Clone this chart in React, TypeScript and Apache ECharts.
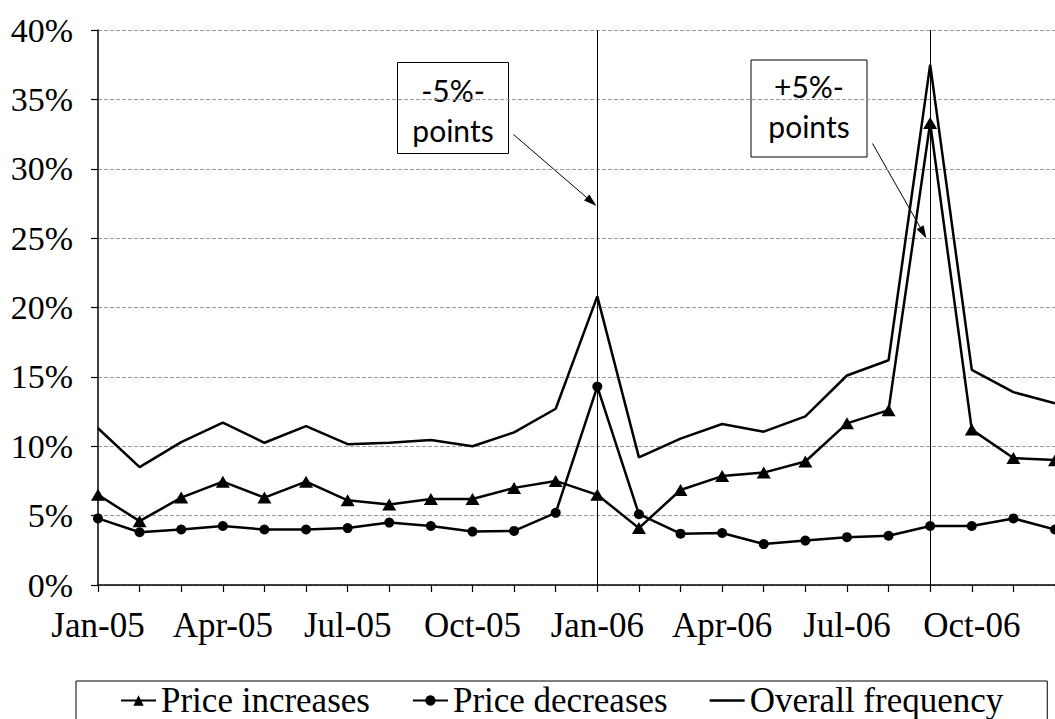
import React, { useEffect, useRef } from "react";
import * as echarts from "echarts";

const months = [
  "Jan-05", "Feb-05", "Mar-05", "Apr-05", "May-05", "Jun-05",
  "Jul-05", "Aug-05", "Sep-05", "Oct-05", "Nov-05", "Dec-05",
  "Jan-06", "Feb-06", "Mar-06", "Apr-06", "May-06", "Jun-06",
  "Jul-06", "Aug-06", "Sep-06", "Oct-06", "Nov-06", "Dec-06",
];

const priceIncreases = [
  6.5, 4.6, 6.3, 7.45, 6.3, 7.45, 6.1, 5.8, 6.2, 6.2, 7.0, 7.5,
  6.5, 4.1, 6.85, 7.85, 8.1, 8.9, 11.65, 12.6, 33.3, 11.2, 9.15, 9.0,
];

const priceDecreases = [
  4.8, 3.8, 4.0, 4.25, 4.0, 4.0, 4.1, 4.5, 4.25, 3.85, 3.9, 5.2,
  14.3, 5.1, 3.7, 3.75, 2.95, 3.2, 3.45, 3.55, 4.25, 4.25, 4.8, 4.0,
];

const overallFrequency = [
  11.3, 8.5, 10.3, 11.7, 10.25, 11.45, 10.15, 10.25, 10.45, 10.0, 11.0, 12.7,
  20.8, 9.2, 10.55, 11.6, 11.05, 12.15, 15.1, 16.2, 37.5, 15.5, 13.9, 13.1,
];

const seriesNames = ["Price increases", "Price decreases", "Overall frequency"];
const markedMonths = ["Jan-06", "Sep-06"];
const boxTexts = ["-5%-\npoints", "+5%-\npoints"];

const SERIF = "Liberation Serif";
const SANS = "Lato";

function arrow(x1: number, y1: number, x2: number, y2: number) {
  const dx = x2 - x1;
  const dy = y2 - y1;
  const len = Math.sqrt(dx * dx + dy * dy);
  const ux = dx / len;
  const uy = dy / len;
  const headLen = 13;
  const headHalf = 4;
  const bx = x2 - ux * headLen;
  const by = y2 - uy * headLen;
  const px = -uy;
  const py = ux;
  return {
    type: "group",
    silent: true,
    children: [
      {
        type: "line",
        shape: { x1, y1, x2: bx, y2: by },
        style: { stroke: "#000", lineWidth: 1 },
      },
      {
        type: "polygon",
        shape: {
          points: [
            [x2, y2],
            [bx + px * headHalf, by + py * headHalf],
            [bx - px * headHalf, by - py * headHalf],
          ],
        },
        style: { fill: "#000" },
      },
    ],
  };
}

function textBox(x: number, y: number, w: number, h: number, text: string, cy: number) {
  return {
    type: "group",
    silent: true,
    children: [
      {
        type: "rect",
        shape: { x, y, width: w, height: h },
        style: { fill: "#fff", stroke: "#000", lineWidth: 1 },
      },
      {
        type: "text",
        style: {
          text,
          x: x + w / 2,
          y: cy,
          align: "center",
          verticalAlign: "middle",
          fontFamily: SANS,
          fontSize: 30,
          lineHeight: 40,
          fill: "#000",
        },
      },
    ],
  };
}

export default function App() {
  const ref = useRef<HTMLDivElement>(null);

  useEffect(() => {
    if (!ref.current) return;
    const chart = echarts.init(ref.current, undefined, { renderer: "svg" });

    const lineStyle = { color: "#000", width: 2.5 };

    chart.setOption({
      animation: false,
      backgroundColor: "#fff",
      textStyle: { fontFamily: SERIF },
      grid: {
        left: 98,
        right: 0,
        top: 30,
        bottom: 134,
        containLabel: false,
        outerBoundsMode: "none",
      },
      legend: {
        left: 76,
        top: 681,
        padding: [2, 44, 3, 44],
        borderColor: "#000",
        borderWidth: 1,
        itemWidth: 35,
        itemHeight: 13,
        itemGap: 42,
        textStyle: { fontFamily: SERIF, fontSize: 35, color: "#000" },
        data: [
          { name: seriesNames[0] },
          { name: seriesNames[1] },
          { name: seriesNames[2], icon: "path://M0 0H35V2.5H0Z" },
        ],
      },
      xAxis: {
        type: "category",
        data: months,
        boundaryGap: false,
        axisLine: { show: true, lineStyle: { color: "#000", width: 1.5 } },
        axisTick: { show: true, interval: 0, length: 7, lineStyle: { color: "#000", width: 1.2 } },
        axisLabel: {
          interval: 2,
          margin: 23,
          color: "#000",
          fontFamily: SERIF,
          fontSize: 35,
        },
        splitLine: { show: false },
      },
      yAxis: {
        type: "value",
        min: 0,
        max: 40,
        interval: 5,
        axisLine: { show: true, lineStyle: { color: "#000", width: 1.5 } },
        axisTick: { show: true, length: 7, lineStyle: { color: "#000", width: 1.2 } },
        axisLabel: {
          formatter: "{value}%",
          margin: 25,
          color: "#000",
          fontFamily: SERIF,
          fontSize: 34,
        },
        splitLine: { show: true, lineStyle: { color: "#9a9a9a", width: 1, type: [4, 2] } },
      },
      series: [
        {
          name: seriesNames[0],
          type: "line",
          data: priceIncreases,
          symbol: "triangle",
          symbolSize: [14, 12],
          showSymbol: true,
          lineStyle,
          itemStyle: { color: "#000" },
          z: 3,
        },
        {
          name: seriesNames[1],
          type: "line",
          data: priceDecreases,
          symbol: "circle",
          symbolSize: 10,
          showSymbol: true,
          lineStyle,
          itemStyle: { color: "#000" },
          z: 3,
        },
        {
          name: seriesNames[2],
          type: "line",
          data: overallFrequency,
          symbol: "none",
          showSymbol: false,
          lineStyle,
          itemStyle: { color: "#000" },
          z: 2,
          markLine: {
            silent: true,
            symbol: ["none", "none"],
            label: { show: false },
            lineStyle: { color: "#000", width: 1, type: "solid" },
            data: markedMonths.map((m) => ({ xAxis: m })),
          },
        },
      ],
      graphic: [
        textBox(397.5, 62.5, 111, 91, boxTexts[0], 110),
        textBox(751, 60, 116, 97, boxTexts[1], 106),
        arrow(513.5, 134.5, 596.5, 206),
        arrow(872.5, 143.5, 926.5, 238.5),
      ],
    });

    return () => chart.dispose();
  }, []);

  return (
    <div
      ref={ref}
      style={{ position: "absolute", left: 0, top: 0, width: 1055, height: 719 }}
    />
  );
}
